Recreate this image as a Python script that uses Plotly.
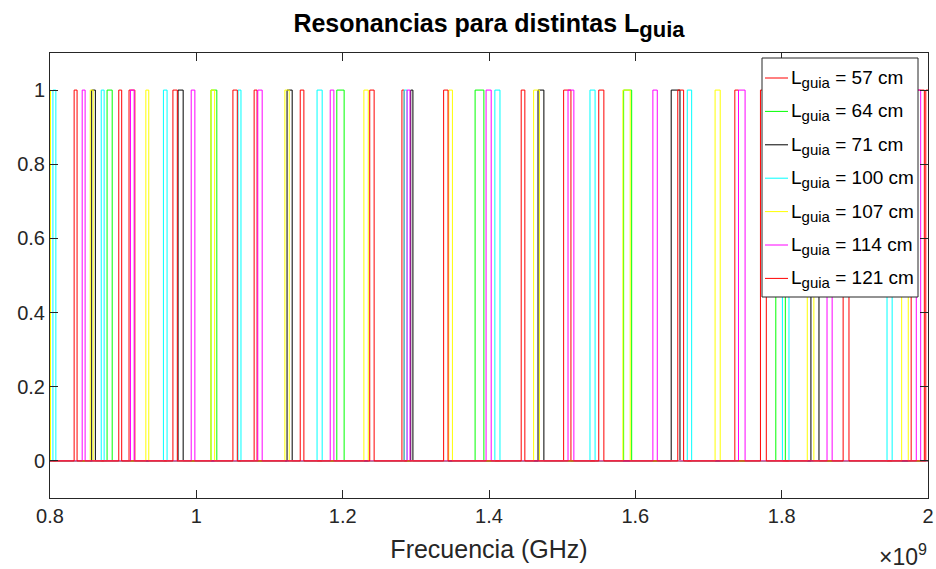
import plotly.graph_objects as go

# Resonance bands (start, end) in GHz for each guide length
lengths_cm = [57, 64, 71, 100, 107, 114, 121]
colors = ["#ff0000", "#00ff00", "#000000", "#00ffff", "#ffff00", "#ff00ff", "#ff0000"]

bands_57 = [(0.908, 0.916), (1.079, 1.083), (1.281, 1.284), (1.502, 1.512),
            (1.736, 1.741), (1.977, 1.995)]
bands_64 = [(0.878, 0.885), (1.020, 1.028), (1.192, 1.202), (1.381, 1.393),
            (1.584, 1.595), (1.792, 1.805)]
bands_71 = [(0.857, 0.862), (0.975, 0.982), (1.124, 1.131), (1.293, 1.296),
            (1.467, 1.475), (1.649, 1.661), (1.840, 1.851)]
bands_100 = [(0.804, 0.808), (0.870, 0.874), (0.955, 0.960), (1.057, 1.061),
             (1.165, 1.172), (1.284, 1.288), (1.408, 1.415), (1.538, 1.545),
             (1.671, 1.677), (1.801, 1.810), (1.944, 1.951)]
bands_107 = [(0.790, 0.8007), (0.855, 0.859), (0.931, 0.935), (1.020, 1.025),
             (1.121, 1.127), (1.229, 1.235), (1.345, 1.350), (1.461, 1.469),
             (1.583, 1.593), (1.709, 1.716), (1.835, 1.844), (1.964, 1.973)]
bands_114 = [(0.844, 0.848), (0.910, 0.915), (0.993, 0.998), (1.084, 1.090),
             (1.183, 1.188), (1.288, 1.292), (1.396, 1.403), (1.508, 1.516),
             (1.624, 1.630), (1.741, 1.750), (1.862, 1.869), (1.984, 1.990)]
bands_121 = [(0.833, 0.837), (0.894, 0.898), (0.968, 0.974), (1.050, 1.056),
             (1.142, 1.147), (1.237, 1.243), (1.338, 1.344), (1.444, 1.449),
             (1.550, 1.557), (1.658, 1.666), (1.771, 1.779), (1.884, 1.892),
             (1.997, 2.010)]

all_bands = [bands_57, bands_64, bands_71, bands_100, bands_107, bands_114, bands_121]

f_min, f_max = 0.78, 2.02

# Figure geometry (pixels)
W, H = 936, 569
ML, MR, MT, MB = 50, 8, 53, 71
PW, PH = W - ML - MR, H - MT - MB


def px_to_paper(x, y):
    return (x - ML) / PW, (H - MB - y) / PH


def pulse_train(bands):
    xs, ys = [f_min], [0]
    for a, b in bands:
        xs += [a, a, b, b]
        ys += [0, 1, 1, 0]
    xs.append(f_max)
    ys.append(0)
    return xs, ys


def label(L, small=15):
    return (f'L<sub><span style="font-size:{small}px">guia</span></sub>'
            f' = {L} cm')


fig = go.Figure()
for L, col, bands in zip(lengths_cm, colors, all_bands):
    xs, ys = pulse_train(bands)
    fig.add_trace(go.Scatter(
        x=xs, y=ys, mode="lines",
        line=dict(color=col, width=1),
        name=f"L<sub>guia</sub> = {L} cm",
        showlegend=False,
    ))

axis_col = "#262626"
font_family = "Liberation Sans, Arial, sans-serif"

fig.update_layout(
    width=W, height=H,
    margin=dict(l=ML, r=MR, t=MT, b=MB, autoexpand=False),
    paper_bgcolor="white", plot_bgcolor="white",
    font=dict(family=font_family, size=20, color=axis_col),
    title=dict(
        text='<b>Resonancias para distintas L'
             '<sub><span style="font-size:22px">guia</span></sub></b>',
        x=(ML + W - MR) / 2 / W, xanchor="center",
        y=1 - 23 / H, yanchor="middle",
        font=dict(size=25, color="black"),
    ),
    showlegend=False,
    xaxis=dict(
        range=[0.8, 2.0], tickvals=[0.8, 1.0, 1.2, 1.4, 1.6, 1.8, 2.0],
        ticktext=["0.8", "1", "1.2", "1.4", "1.6", "1.8", "2"],
        showgrid=False, zeroline=False, automargin=False,
        showline=True, linecolor=axis_col, linewidth=1, mirror="ticks",
        ticks="inside", ticklen=8, tickcolor=axis_col,
        tickfont=dict(size=20),
        title=dict(text="Frecuencia (GHz)", font=dict(size=25), standoff=14),
    ),
    yaxis=dict(
        range=[-0.1, 1.1], tickvals=[0, 0.2, 0.4, 0.6, 0.8, 1.0],
        ticktext=["0", "0.2", "0.4", "0.6", "0.8", "1"],
        showgrid=False, zeroline=False, automargin=False,
        showline=True, linecolor=axis_col, linewidth=1, mirror="ticks",
        ticks="inside", ticklen=8, tickcolor=axis_col,
        tickfont=dict(size=20),
    ),
)

# Legend box with line samples and labels
bx0, by0 = px_to_paper(762, 297)
bx1, by1 = px_to_paper(918, 58)
fig.add_shape(type="rect", xref="paper", yref="paper",
              x0=bx0, y0=by0, x1=bx1, y1=by1,
              line=dict(color=axis_col, width=1), fillcolor="white", layer="above")

row_gap = 33.4
for i, (L, col) in enumerate(zip(lengths_cm, colors)):
    ty = 75 + row_gap * i
    lx0, ly = px_to_paper(765, ty + 3)
    lx1, _ = px_to_paper(788, ty + 3)
    fig.add_shape(type="line", xref="paper", yref="paper",
                  x0=lx0, y0=ly, x1=lx1, y1=ly,
                  line=dict(color=col, width=1), layer="above")
    tx, tyc = px_to_paper(790, ty + 4)
    fig.add_annotation(text=label(L), xref="paper", yref="paper",
                       x=tx, y=tyc, xanchor="left", yanchor="middle",
                       showarrow=False, borderpad=0,
                       font=dict(size=19, color="black"))

xa, ya = px_to_paper(W - MR + 1, 555)
fig.add_annotation(
    text="×10<sup>9</sup>", xref="paper", yref="paper",
    x=xa, xanchor="right", y=ya, yanchor="middle",
    showarrow=False, font=dict(size=23, color=axis_col),
)

fig.write_html("out.html")
